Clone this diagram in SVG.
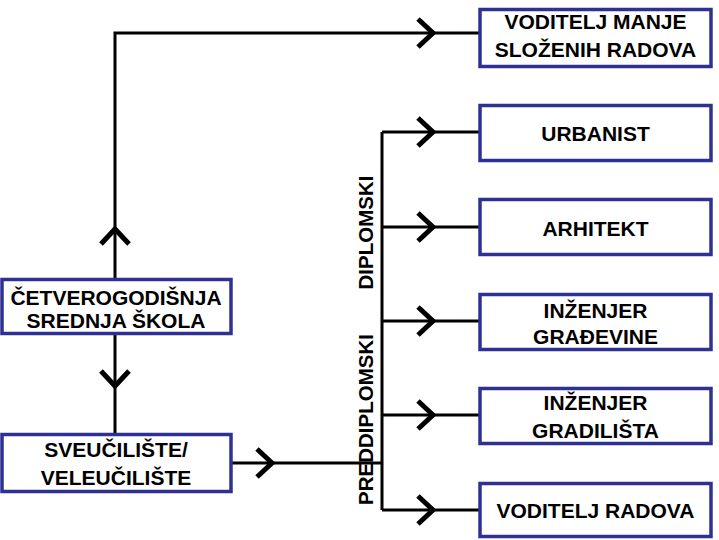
<svg xmlns="http://www.w3.org/2000/svg" width="719" height="540" viewBox="0 0 719 540">
<style>
.box{fill:#fff;stroke:#2e3192;stroke-width:3.5}
.t{font-family:"Liberation Sans",Arial,sans-serif;font-weight:bold;font-size:21px;fill:#000;text-anchor:middle}
.v{font-family:"Liberation Sans",Arial,sans-serif;font-weight:bold;font-size:20.5px;fill:#000;text-anchor:middle}
.ln{fill:none;stroke:#000;stroke-width:3}
.ch{fill:none;stroke:#000;stroke-width:5;stroke-linecap:butt;stroke-linejoin:miter}
</style>
<defs>
<path id="chev" class="ch" d="M-15,-14 L0,0 L-15,14"/>
</defs>
<rect width="719" height="540" fill="#fff"/>
<g id="connectors">
<path class="ln" d="M115,279 V33 H479"/>
<path class="ln" d="M115,335 V434"/>
<path class="ln" d="M232,463 H382"/>
<path class="ln" d="M382,132 V510"/>
<path class="ln" d="M382,132 H479"/>
<path class="ln" d="M382,227 H479"/>
<path class="ln" d="M382,321 H479"/>
<path class="ln" d="M382,415 H479"/>
<path class="ln" d="M382,510 H479"/>
<use href="#chev" transform="translate(115,229) rotate(-90)"/>
<use href="#chev" transform="translate(115,386) rotate(90)"/>
<use href="#chev" transform="translate(433,33)"/>
<use href="#chev" transform="translate(272,463)"/>
<use href="#chev" transform="translate(433,132)"/>
<use href="#chev" transform="translate(433,227)"/>
<use href="#chev" transform="translate(433,321)"/>
<use href="#chev" transform="translate(433,415)"/>
<use href="#chev" transform="translate(433,510)"/>
</g>
<g id="label-diplomski"><text class="v" transform="translate(373,232.5) rotate(-90)">DIPLOMSKI</text></g>
<g id="label-preddiplomski"><text class="v" transform="translate(373,419.5) rotate(-90)">PREDDIPLOMSKI</text></g>
<g id="n-skola">
<rect class="box" x="2" y="279.5" width="229" height="54"/>
<text class="t" x="116" y="305">ČETVEROGODIŠNJA</text>
<text class="t" x="116" y="328">SREDNJA ŠKOLA</text>
</g>
<g id="n-sveuciliste">
<rect class="box" x="2" y="434.5" width="229" height="57"/>
<text class="t" x="116" y="457">SVEUČILIŠTE/</text>
<text class="t" x="116" y="485">VELEUČILIŠTE</text>
</g>
<g id="n-voditelj-manje">
<rect class="box" x="480" y="9.5" width="231" height="57"/>
<text class="t" x="595.5" y="29">VODITELJ MANJE</text>
<text class="t" x="595.5" y="57">SLOŽENIH RADOVA</text>
</g>
<g id="n-urbanist">
<rect class="box" x="480" y="105.5" width="231" height="55"/>
<text class="t" x="595.5" y="141">URBANIST</text>
</g>
<g id="n-arhitekt">
<rect class="box" x="480" y="199.5" width="231" height="55"/>
<text class="t" x="595.5" y="236">ARHITEKT</text>
</g>
<g id="n-inz-gradevine">
<rect class="box" x="480" y="294.5" width="231" height="55"/>
<text class="t" x="595.5" y="318">INŽENJER</text>
<text class="t" x="595.5" y="344">GRAĐEVINE</text>
</g>
<g id="n-inz-gradilista">
<rect class="box" x="480" y="388.5" width="231" height="55"/>
<text class="t" x="595.5" y="410">INŽENJER</text>
<text class="t" x="595.5" y="438">GRADILIŠTA</text>
</g>
<g id="n-voditelj-radova">
<rect class="box" x="480" y="483.5" width="231" height="53"/>
<text class="t" x="595.5" y="518">VODITELJ RADOVA</text>
</g>
</svg>
